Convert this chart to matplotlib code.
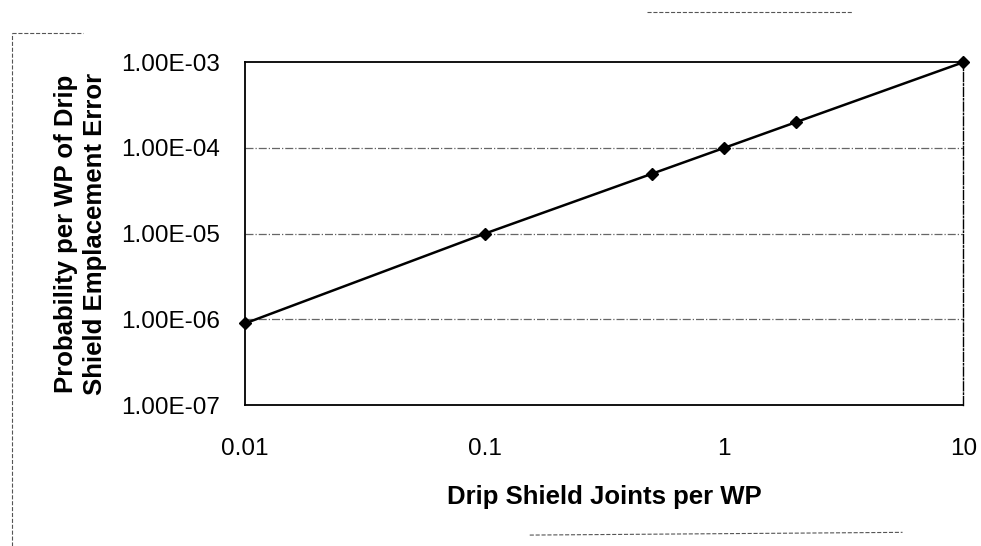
import matplotlib.pyplot as plt
from matplotlib.ticker import FixedLocator, NullLocator

# values
joints = [0.01, 0.1, 0.5, 1, 2, 10]
probability = [9e-7, 1e-5, 5e-5, 1e-4, 2e-4, 1e-3]
xTicks = [0.01, 0.1, 1, 10]
xTickLabels = ["0.01", "0.1", "1", "10"]
yTicks = [1e-7, 1e-6, 1e-5, 1e-4, 1e-3]
yTickLabels = ["1.00E-07", "1.00E-06", "1.00E-05", "1.00E-04", "1.00E-03"]

plt.rcParams['font.family'] = ['Liberation Sans', 'DejaVu Sans']

fig = plt.figure(figsize=(9.81, 5.46), dpi=100)
ax = fig.add_axes([0.25, 0.258, 0.732, 0.628])

ax.set_xscale('log')
ax.set_yscale('log')
ax.set_xlim(0.01, 10)
ax.set_ylim(1e-7, 1e-3)

for level in yTicks[1:-1]:
    ax.axhline(level, color='#666666', lw=0.9, ls='-.', zorder=1)

ax.plot(joints, probability, color='black', lw=1.8, marker='D', markersize=6,
        clip_on=False, zorder=3)

ax.xaxis.set_major_locator(FixedLocator(xTicks))
ax.xaxis.set_minor_locator(NullLocator())
ax.set_xticklabels(xTickLabels)
ax.yaxis.set_major_locator(FixedLocator(yTicks))
ax.yaxis.set_minor_locator(NullLocator())
ax.set_yticklabels(yTickLabels)
ax.tick_params(length=0, labelsize=17.5)
ax.tick_params(axis='x', pad=24)
ax.tick_params(axis='y', pad=18)

for side in ['top', 'left', 'bottom']:
    ax.spines[side].set_linewidth(1.3)
ax.spines['right'].set_linestyle('-.')
ax.spines['right'].set_linewidth(1.0)

ax.set_xlabel("Drip Shield Joints per WP", fontsize=18.5, fontweight='bold', labelpad=18)
ax.set_ylabel("Probability per WP of Drip\nShield Emplacement Error", fontsize=18.5,
              fontweight='bold', labelpad=10, linespacing=1.3)

# faint scan border remnants
fig.add_artist(plt.Line2D([0.012, 0.012], [0.0, 0.94], color='#555555', lw=0.8, ls='--'))
fig.add_artist(plt.Line2D([0.012, 0.085], [0.94, 0.94], color='#555555', lw=0.8, ls='--'))
fig.add_artist(plt.Line2D([0.66, 0.87], [0.978, 0.978], color='#555555', lw=0.8, ls='--'))
fig.add_artist(plt.Line2D([0.54, 0.92], [0.02, 0.025], color='#555555', lw=0.8, ls='--'))

fig.savefig("out.png", dpi=100, facecolor='white')
